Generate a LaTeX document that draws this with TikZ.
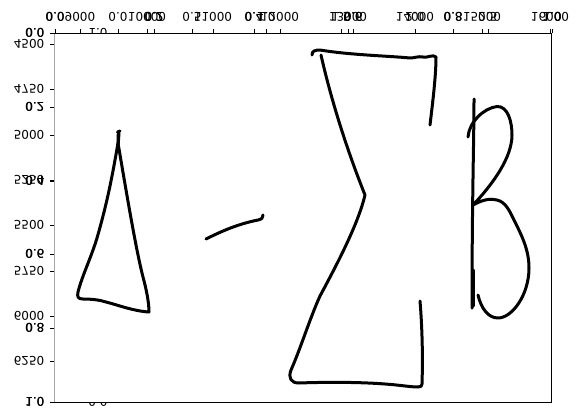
\documentclass[tikz,border=0pt]{standalone}
\usepackage{fontspec}
\setmainfont{DejaVu Sans}
\tikzset{
  ticklab/.style={font=\fontsize{12}{12}\selectfont, inner sep=0pt, text=black, yscale=-1},
  toplab/.style={ticklab, anchor=center},
  leftlab/.style={ticklab, anchor=east},
  tickline/.style={draw=black, line width=0.8pt},
  spine/.style={draw=black, line width=1pt},
  ink/.style={draw=black, line width=3pt, line cap=round, line join=round}
}
\begin{document}
\begin{tikzpicture}[x=1pt,y=-1pt]
\useasboundingbox (0,0) rectangle (581,418);
\fill[white] (0,0) rectangle (581,418);
% labels half hidden by the white plot area
\node[toplab] (hid1) at (98,33) {1.0};
\node[toplab] (hid0) at (98,402) {0.0};
\fill[white] (55,33) rectangle (551.5,402);
% ticks
\foreach \x in {55,80,118,147,154,192,213,254,266,280,341,348,353,415,453,482,488,550,552}
  \draw[tickline] (\x,29) -- (\x,33);
\foreach \y in {33,44,89,107,135,180.5,181,225,254,271,316,328,361,402}
  \draw[tickline] (50,\y) -- (54.5,\y);
% spines
\draw[draw=black!35, line width=1pt] (54.5,33) -- (54.5,402);
\draw[spine] (54,33) -- (551.5,33) -- (551.5,402) -- (54,402);
% top labels
\foreach \x/\t [count=\i] in {55/0.0,154/0.2,254/0.4,353/0.6,453/0.8,552/1.0}{
  \node[toplab] (ta\i) at (\x,17) {\t};
  \node[toplab] (tb\i) at (\x+0.3,17) {\t};
}
\foreach \x/\t [count=\i] in {80/9000,147/10000,213/11000,280/12000,348/13000,415/14000,482/15000,550/16000}
  \node[toplab] (tc\i) at (\x,17) {\t};
\foreach \x/\t [count=\i] in {118/0.0,192/0.5,266/1.0,341/1.5,415/2.0,488/2.5}
  \node[toplab] (td\i) at (\x,17) {\t};
% left labels
\foreach \y/\t [count=\i] in {33/0.0,107/0.2,181/0.4,254/0.6,328/0.8,402/1.0}{
  \node[leftlab] (la\i) at (44.5,\y) {\t};
  \node[leftlab] (lb\i) at (44.8,\y) {\t};
}
\foreach \y/\t [count=\i] in {44/4500,89/4750,135/5000,180/5250,225/5500,271/5750,316/6000,361/6250}
  \node[leftlab] (lc\i) at (44.5,\y) {\t};
% triangle
\draw[ink] (117.5,132) -- (120,131);
\draw[ink] (118.3,132) -- (118,146);
\draw[ink] (119,133) -- (118.3,143);
\draw[ink] (118,143) .. controls (113,172) and (108,200) .. (97,238)
  .. controls (91,258) and (82,276) .. (78,292)
  .. controls (77,297) and (78,299) .. (83,299)
  .. controls (92,299) and (100,300) .. (106,302)
  .. controls (118,305) and (133,311) .. (149,312)
  .. controls (149,302) and (146,288) .. (143,277)
  .. controls (136,250) and (126,190) .. (118,143);
% dash
\draw[ink] (206,239) .. controls (222,231) and (238,224) .. (258,220)
  .. controls (262,219) and (263,218) .. (263,215);
% sigma
\draw[ink] (430,125) .. controls (433,100) and (436,75) .. (436,57)
  .. controls (433,54) and (428,58) .. (423,57)
  .. controls (418,56) and (415,58) .. (410,58)
  .. controls (390,56) and (350,55) .. (320,50)
  .. controls (315,50) and (312,51) .. (312,55);
\draw[ink] (321,55) .. controls (330,95) and (345,145) .. (365,195)
  .. controls (358,225) and (335,268) .. (320,296)
  .. controls (310,318) and (300,350) .. (291,370)
  .. controls (288,378) and (291,383) .. (299,383)
  .. controls (325,382) and (360,382) .. (385,384)
  .. controls (400,385) and (410,387) .. (418,387)
  .. controls (421,387) and (422,386) .. (422,384)
  .. controls (423,355) and (422,325) .. (420,301);
% B
\draw[ink] (474,99) .. controls (474,140) and (472,200) .. (472,308);
\draw[ink] (473,270) -- (473,306);
\draw[ink] (468,137) .. controls (469,122) and (484,108) .. (497,106.5)
  .. controls (508,106) and (512,122) .. (512,135)
  .. controls (512,158) and (492,185) .. (473,205)
  .. controls (482,200) and (490,198) .. (497,200)
  .. controls (506,202) and (510,212) .. (514,220)
  .. controls (522,236) and (529,250) .. (529,268)
  .. controls (529,295) and (512,318) .. (498,318)
  .. controls (488,318) and (481,308) .. (478,295);
\end{tikzpicture}
\end{document}
